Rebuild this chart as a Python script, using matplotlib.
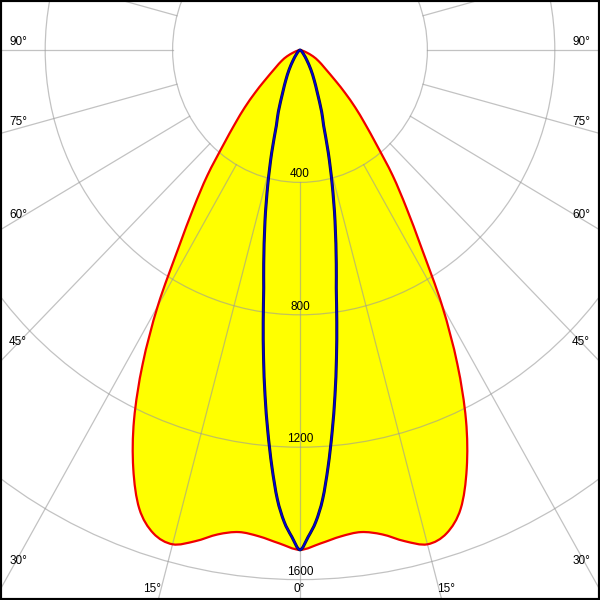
import numpy as np
import matplotlib
matplotlib.use("Agg")
import matplotlib.pyplot as plt
from matplotlib.patches import Circle, PathPatch
from matplotlib.path import Path

# ---- data ----
# C0-C180 plane (red, filled yellow)
red_angles = [0, 2.5, 5, 7.5, 10, 12.5, 15, 17.5, 20, 22.5, 25, 27.5, 30, 32.5, 35,
              37.5, 40, 42.5, 45, 47.5, 50, 55, 60, 65, 70, 75, 80, 90]
red_cd = [1510, 1492, 1475, 1469, 1486, 1520, 1546, 1531, 1475, 1368, 1233, 1070, 893, 712, 583,
          478, 375, 302, 245, 192, 148, 95, 68, 45, 22, 9, 3, 0]
# C90-C270 plane (blue)
blue_angles = [0, 1, 2, 3, 4, 5, 6, 7, 8, 9, 10, 12, 14, 16, 18, 20, 23, 26, 30, 35, 40, 50, 60, 75, 90]
blue_cd = [1510, 1471, 1426, 1359, 1263, 1158, 1050, 939, 830, 728, 656, 529, 417, 322, 240, 199,
           138, 102, 68, 37, 20, 8, 3, 1, 0]

ring_values = [400, 800, 1200, 1600, 2000, 2400]
ring_labels = ["400", "800", "1200", "1600"]
spoke_angles = list(range(-180, 181, 15))

side_labels = ["90°", "75°", "60°", "45°", "30°"]
side_label_y = [42, 122, 215, 342, 561]          # pixel rows in the reference
bottom_labels = ["15°", "0°", "15°"]
bottom_label_x = [152, 299, 446]

# ---- figure ----
W = H = 600
fig = plt.figure(figsize=(6, 6), dpi=100)
ax = fig.add_axes([0, 0, 1, 1])
sx, sy = 0.3185, 0.331          # px per cd horizontally / vertically
cx, cy = 300, 50                # pole position in pixels
ax.set_xlim(-cx / sx, (W - cx) / sx)
ax.set_ylim(-(H - cy) / sy, cy / sy)
ax.set_xticks([])
ax.set_yticks([])
for s in ax.spines.values():
    s.set_color("black")
    s.set_linewidth(3)
    s.set_zorder(10)

def polar_xy(angles, vals):
    a = np.radians(np.asarray(angles, float))
    v = np.asarray(vals, float)
    return v * np.sin(a), -v * np.cos(a)

def mirrored(angles, vals):
    ang = [-a for a in angles[::-1]] + list(angles[1:])
    val = list(vals[::-1]) + list(vals[1:])
    return polar_xy(ang, val)

def smooth_path(x, y):
    """Catmull-Rom curve through the measured points, drawn as cubic Bezier segments."""
    P = np.column_stack([x, y])
    n = len(P)
    verts = [P[0]]
    codes = [Path.MOVETO]
    for i in range(n - 1):
        p0 = P[i - 1] if i > 0 else P[i]
        p1, p2 = P[i], P[i + 1]
        p3 = P[i + 2] if i + 2 < n else P[i + 1]
        c1 = p1 + (p2 - p0) / 6.0
        c2 = p2 - (p3 - p1) / 6.0
        verts += [c1, c2, p2]
        codes += [Path.CURVE4] * 3
    return Path(np.array(verts), codes)

rx, ry = mirrored(red_angles, red_cd)
bx, by = mirrored(blue_angles, blue_cd)
red_path = smooth_path(rx, ry)
blue_path = smooth_path(bx, by)

ax.add_patch(PathPatch(red_path, facecolor="#ffff00", edgecolor="none", zorder=1))

grid_col, grid_alpha, grid_lw = "#9a9a9a", 0.6, 0.9
for r in ring_values:
    ax.add_patch(Circle((0, 0), r, fill=False, ec=grid_col, alpha=grid_alpha, lw=grid_lw, zorder=2))
for a in spoke_angles:
    t = np.radians(a)
    ax.plot([400 * np.sin(t), 4000 * np.sin(t)], [-400 * np.cos(t), -4000 * np.cos(t)],
            color=grid_col, alpha=grid_alpha, lw=grid_lw, zorder=2)

ax.add_patch(PathPatch(red_path, facecolor="none", edgecolor="#f00000", lw=1.6, zorder=3))
ax.add_patch(PathPatch(blue_path, facecolor="none", edgecolor="#101030", lw=2.2, zorder=4))
ax.add_patch(PathPatch(blue_path, facecolor="none", edgecolor="#0000d0", lw=1.3, zorder=5))

font = dict(family=["Liberation Sans", "DejaVu Sans"], fontsize=8.5, color="black", zorder=6)
for lab in ring_labels:
    r = float(lab)
    ax.text(0, -r + 2.0 / sy, lab, ha="center", va="bottom", **font)

for lab, yp in zip(side_labels, side_label_y):
    ax.text(18 / W, 1 - yp / H, lab, ha="center", va="center", transform=ax.transAxes, **font)
    ax.text(581 / W, 1 - yp / H, lab, ha="center", va="center", transform=ax.transAxes, **font)
for lab, xp in zip(bottom_labels, bottom_label_x):
    ax.text(xp / W, 1 - 589 / H, lab, ha="center", va="center", transform=ax.transAxes, **font)

fig.savefig("out.png", dpi=100)
